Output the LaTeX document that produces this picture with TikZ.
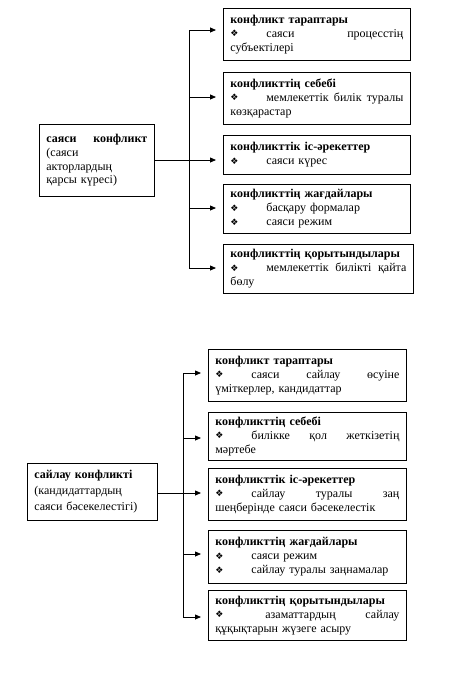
\documentclass[tikz,border=0pt]{standalone}
\usepackage{fontspec}
\setmainfont{Liberation Serif}
\newfontfamily\symfont{DejaVu Sans}
\usetikzlibrary{arrows.meta}
\newcommand{\bl}[1][36pt]{\makebox[#1][l]{\raisebox{0.5pt}{\symfont\fontsize{9}{9}\selectfont ❖}}}
\tikzset{
  box/.style={draw, line width=0.8pt, anchor=north west, inner xsep=7pt, inner ysep=0pt, align=left},
  tsp/.style={font=\fontsize{12}{13.8}\selectfont},
  bsp/.style={font=\fontsize{12}{14.2}\selectfont},
  conn/.style={line width=0.8pt},
  arr/.style={line width=0.8pt, -{Triangle[length=6pt,width=5pt]}, shorten >=7pt}
}
\begin{document}
\begin{tikzpicture}[x=1pt,y=-1pt]
\useasboundingbox[fill=white] (0,0) rectangle (466,678);
% ---------- top diagram ----------
\node[box,tsp,text width=173pt,minimum height=52pt] (B1) at (223,8)
 {\textbf{конфликт тараптары}\\ \bl саяси\hfill процесстің\\ субъектілері};
\node[box,tsp,text width=173pt,minimum height=52pt] (B2) at (223,72)
 {\textbf{конфликттің себебі}\\ \bl мемлекеттік\hfill билік\hfill туралы\\ көзқарастар};
\node[box,tsp,text width=173pt,minimum height=39pt] (B3) at (223,135)
 {\textbf{конфликттік іс-әрекеттер}\\ \bl саяси күрес};
\node[box,tsp,text width=173pt,minimum height=49pt] (B4) at (223,184)
 {\textbf{конфликттің жағдайлары}\\ \bl басқару формалар\\ \bl саяси режим};
\node[box,tsp,text width=176pt,minimum height=49pt] (B5) at (223,244)
 {\textbf{конфликттің қорытындылары}\\ \bl мемлекеттік\hfill билікті\hfill қайта\\ бөлу};
\node[box,tsp,text width=101pt,minimum height=72pt] (L) at (39,124)
 {\textbf{саяси\hfill конфликт}\\ (саяси\\ акторлардың\\ қарсы күресі)\\[5pt]};
\coordinate (a1) at (189,30);
\coordinate (a2) at (189,97);
\coordinate (a3) at (189,160);
\coordinate (a4) at (189,208);
\coordinate (a5) at (189,268);
\draw[conn] (a1) -- (a5);
\draw[conn] (L.east |- a3) -- (a3);
\draw[arr] (a1) -- (a1 -| B1.west);
\draw[arr] (a2) -- (a2 -| B2.west);
\draw[arr] (a3) -- (a3 -| B3.west);
\draw[arr] (a4) -- (a4 -| B4.west);
\draw[arr] (a5) -- (a5 -| B5.west);
% ---------- bottom diagram ----------
\node[box,bsp,text width=184pt,minimum height=52pt] (C1) at (208,349)
 {\textbf{конфликт тараптары}\\ \bl саяси\hfill сайлау\hfill өсуіне\\ үміткерлер, кандидаттар};
\node[box,bsp,text width=184pt,minimum height=48pt] (C2) at (208,412)
 {\textbf{конфликттің себебі}\\ \bl билікке\hfill қол\hfill жеткізетің\\ мәртебе};
\node[box,bsp,text width=184pt,minimum height=52pt] (C3) at (208,468)
 {\textbf{конфликттік іс-әрекеттер}\\ \bl сайлау\hfill туралы\hfill заң\\ шеңберінде саяси бәсекелестік};
\node[box,bsp,text width=184pt,minimum height=53pt] (C4) at (208,530)
 {\textbf{конфликттің жағдайлары}\\ \bl саяси режим\\ \bl сайлау туралы заңнамалар};
\node[box,bsp,text width=184pt,minimum height=50pt] (C5) at (208,590)
 {\textbf{конфликттің қорытындылары}\\ \bl[46pt] азаматтардың\hfill сайлау\\ құқықтарын жүзеге асыру};
\node[box,font=\fontsize{12}{16}\selectfont,text width=116pt,minimum height=57pt] (M) at (27,463)
 {\textbf{сайлау конфликті}\\ (кандидаттардың\\ саяси бәсекелестігі)};
\coordinate (c1) at (183,373);
\coordinate (c2) at (183,438);
\coordinate (c3) at (183,493);
\coordinate (c4) at (183,554);
\coordinate (c5) at (183,617);
\draw[conn] (c1) -- (c5);
\draw[conn] (M.east |- c3) -- (c3);
\draw[arr] (c1) -- (c1 -| C1.west);
\draw[arr] (c2) -- (c2 -| C2.west);
\draw[arr] (c3) -- (c3 -| C3.west);
\draw[arr] (c4) -- (c4 -| C4.west);
\draw[arr] (c5) -- (c5 -| C5.west);
\end{tikzpicture}
\end{document}
